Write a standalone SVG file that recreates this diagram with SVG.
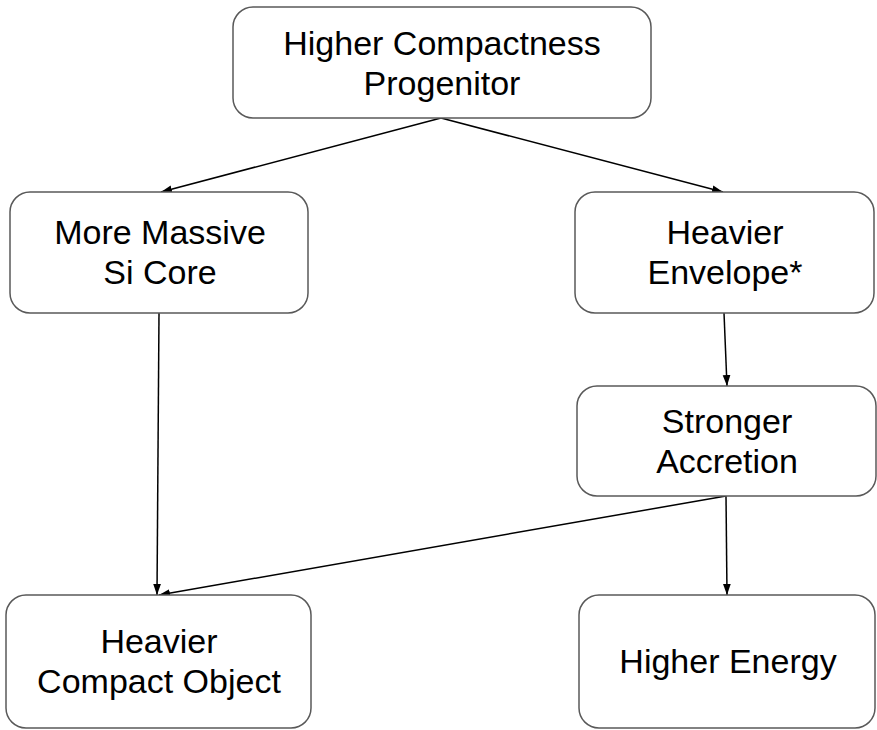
<svg xmlns="http://www.w3.org/2000/svg" width="877" height="730" viewBox="0 0 877 730">
<style>
.box{fill:#fff;stroke:#595959;stroke-width:1.5}
.lbl{font-family:"Liberation Sans",Arial,sans-serif;font-size:34px;fill:#000;text-anchor:middle}
.edge{stroke:#000;stroke-width:1.5;fill:none;marker-end:url(#ah)}
</style>
<defs>
<marker id="ah" viewBox="0 0 10 10" refX="10" refY="5" markerWidth="11" markerHeight="11" markerUnits="userSpaceOnUse" orient="auto">
<path d="M0,1.5 L10,5 L0,8.5 z" fill="#000"/>
</marker>
</defs>
<rect width="877" height="730" fill="#fff"/>
<g id="connectors">
<line class="edge" x1="441" y1="118" x2="161" y2="192"/>
<line class="edge" x1="441" y1="118" x2="723" y2="192"/>
<line class="edge" x1="159" y1="313" x2="157" y2="595"/>
<line class="edge" x1="724" y1="313" x2="727" y2="386"/>
<line class="edge" x1="726" y1="496" x2="727" y2="595"/>
<line class="edge" x1="726" y1="496" x2="159" y2="595"/>
</g>
<g id="n1">
<rect class="box" x="233" y="7" width="418" height="111" rx="20"/>
<text class="lbl" x="442" y="55">Higher Compactness</text>
<text class="lbl" x="442" y="95">Progenitor</text>
</g>
<g id="n2">
<rect class="box" x="10" y="192" width="298" height="121" rx="20"/>
<text class="lbl" x="160" y="244">More Massive</text>
<text class="lbl" x="160" y="284">Si Core</text>
</g>
<g id="n3">
<rect class="box" x="575" y="192" width="299" height="121" rx="20"/>
<text class="lbl" x="725" y="244">Heavier</text>
<text class="lbl" x="725" y="284">Envelope*</text>
</g>
<g id="n4">
<rect class="box" x="577" y="386" width="299" height="110" rx="20"/>
<text class="lbl" x="727" y="433">Stronger</text>
<text class="lbl" x="727" y="473">Accretion</text>
</g>
<g id="n5">
<rect class="box" x="6" y="595" width="305" height="133" rx="20"/>
<text class="lbl" x="159" y="653">Heavier</text>
<text class="lbl" x="159" y="693">Compact Object</text>
</g>
<g id="n6">
<rect class="box" x="579" y="595" width="296" height="133" rx="20"/>
<text class="lbl" x="728" y="673">Higher Energy</text>
</g>
</svg>
